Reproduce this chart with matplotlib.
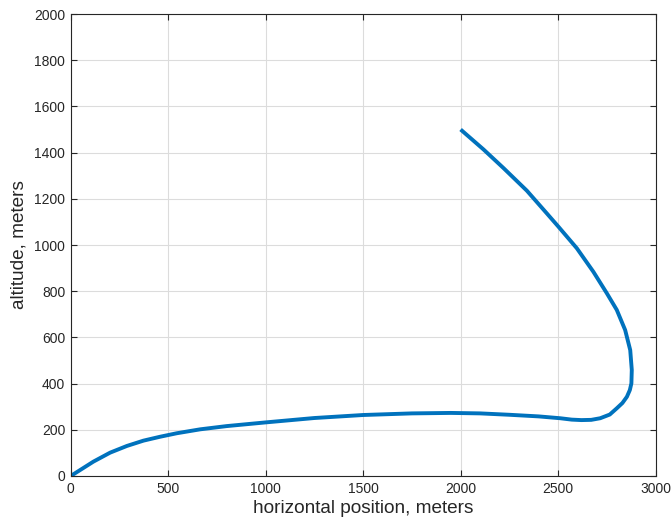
import matplotlib
matplotlib.use("Agg")
import matplotlib.pyplot as plt

# trajectory data
x_pos = [0, 116, 202, 288, 373, 459, 544, 664, 800, 1000, 1250, 1500, 1750, 1950,
         2100, 2250, 2400, 2511, 2570, 2620, 2670, 2716, 2765, 2801, 2830, 2853,
         2868, 2876, 2878, 2870, 2844, 2801, 2750, 2681, 2596, 2502, 2442, 2340,
         2220, 2117, 2000]
altitude = [0, 62, 101, 130, 153, 170, 185, 202, 216, 232, 251, 264, 271, 273,
            271, 265, 258, 250, 244, 242, 243, 250, 266, 293, 316, 343,
            372, 401, 459, 545, 632, 719, 791, 884, 986, 1079, 1137, 1235,
            1333, 1414, 1500]

x_ticks = [0, 500, 1000, 1500, 2000, 2500, 3000]
y_ticks = [0, 200, 400, 600, 800, 1000, 1200, 1400, 1600, 1800, 2000]

plt.rcParams['font.family'] = ['Liberation Sans', 'DejaVu Sans']

fig = plt.figure(figsize=(6.71, 5.27), dpi=100)
ax = fig.add_axes([0.1054, 0.0968, 0.8716, 0.8766])

ax.plot(x_pos, altitude, color='#0072BD', linewidth=2.8,
        solid_joinstyle='round', solid_capstyle='butt')

ax.set_xlim(0, 3000)
ax.set_ylim(0, 2000)
ax.set_xticks(x_ticks)
ax.set_yticks(y_ticks)
ax.grid(True, color='#dcdcdc', linewidth=0.8)
ax.set_axisbelow(True)

ax.tick_params(direction='in', length=4, width=0.8, colors='#262626',
               labelsize=10, top=True, right=True, pad=4)
for s in ax.spines.values():
    s.set_color('#262626')
    s.set_linewidth(0.8)

ax.set_xlabel('horizontal position, meters', fontsize=13.7, color='#262626', labelpad=3)
ax.set_ylabel('altitude, meters', fontsize=13.7, color='#262626', labelpad=5)

fig.savefig('out.png', dpi=100)
